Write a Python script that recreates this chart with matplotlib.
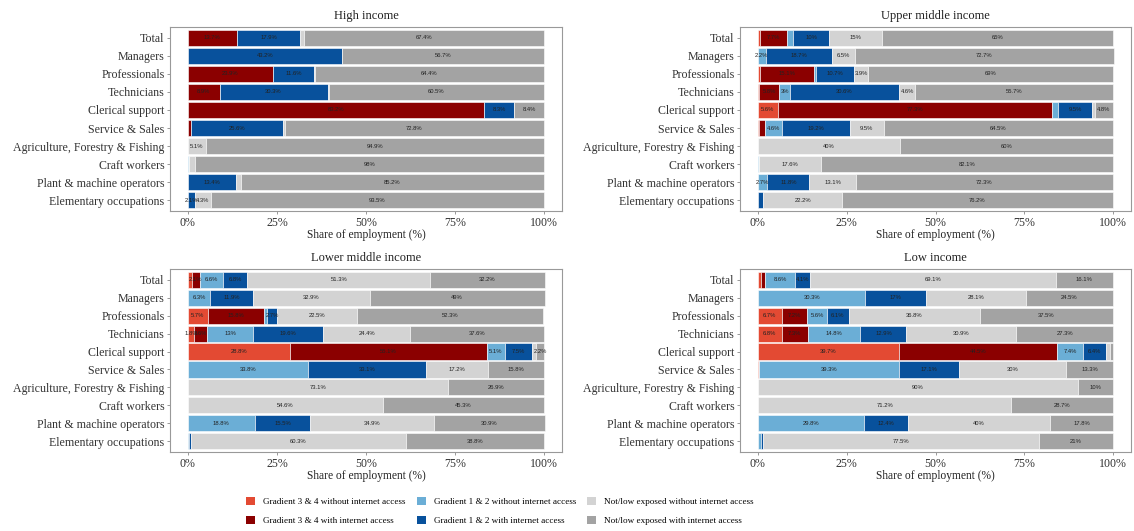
import matplotlib
matplotlib.use("Agg")
import matplotlib.pyplot as plt
from matplotlib.patches import Patch
import numpy as np

plt.rcParams["font.family"] = ["Liberation Serif", "DejaVu Serif"]

occupations = [
    "Total", "Managers", "Professionals", "Technicians", "Clerical support",
    "Service & Sales", "Agriculture, Forestry & Fishing", "Craft workers",
    "Plant & machine operators", "Elementary occupations",
]

series_names = [
    "Gradient 3 & 4 without internet access",
    "Gradient 3 & 4 with internet access",
    "Gradient 1 & 2 without internet access",
    "Gradient 1 & 2 with internet access",
    "Not/low exposed without internet access",
    "Not/low exposed with internet access",
]
series_colors = ["#E34A33", "#8B0000", "#6BAED6", "#08519C", "#D3D3D3", "#A3A3A3"]

# High income
high_g34_no = [0, 0, 0, 0, 0, 0, 0, 0, 0, 0]
high_g34_in = [13.7, 0, 23.9, 8.9, 83.2, 1.0, 0, 0, 0, 0]
high_g12_no = [0, 0, 0, 0, 0, 0, 0, 0.2, 0, 0]
high_g12_in = [17.9, 43.2, 11.6, 30.3, 8.3, 25.6, 0, 0, 13.4, 2.1]
high_nl_no = [1.0, 0.1, 0.1, 0.3, 0.1, 0.6, 5.1, 1.7, 1.4, 4.3]
high_nl_in = [67.4, 56.7, 64.4, 60.5, 8.4, 72.8, 94.9, 98, 85.2, 93.5]

# Upper middle income
umid_g34_no = [0.6, 0, 0.7, 0.3, 5.6, 0.4, 0, 0, 0, 0]
umid_g34_in = [7.7, 0, 15.1, 5.8, 77.3, 1.7, 0, 0, 0, 0]
umid_g12_no = [1.7, 2.2, 0.6, 3.0, 1.6, 4.6, 0, 0.3, 2.7, 0]
umid_g12_in = [10, 18.7, 10.7, 30.6, 9.5, 19.2, 0, 0, 11.8, 1.5]
umid_nl_no = [15, 6.5, 3.9, 4.6, 1.0, 9.5, 40, 17.6, 13.1, 22.2]
umid_nl_in = [65, 72.7, 69, 55.7, 4.8, 64.5, 60, 82.1, 72.3, 76.2]

# Lower middle income
lmid_g34_no = [1.2, 0, 5.7, 1.8, 28.8, 0, 0, 0, 0, 0]
lmid_g34_in = [2.1, 0, 15.8, 3.6, 55.1, 0, 0, 0, 0, 0]
lmid_g12_no = [6.6, 6.3, 0.8, 13, 5.1, 33.8, 0, 0.1, 18.8, 0.3]
lmid_g12_in = [6.8, 11.9, 2.7, 19.6, 7.5, 33.1, 0, 0, 15.5, 0.6]
lmid_nl_no = [51.3, 32.9, 22.5, 24.4, 1.3, 17.2, 73.1, 54.6, 34.9, 60.3]
lmid_nl_in = [32.2, 49, 52.3, 37.6, 2.2, 15.8, 26.9, 45.3, 30.9, 38.8]

# Low income
low_g34_no = [1.0, 0, 6.7, 6.8, 39.7, 0.3, 0, 0, 0, 0]
low_g34_in = [1.0, 0, 7.2, 7.3, 44.5, 0, 0, 0, 0, 0]
low_g12_no = [8.6, 30.3, 5.6, 14.8, 7.4, 39.3, 0, 0.1, 29.8, 1.0]
low_g12_in = [4.1, 17, 6.1, 12.9, 6.4, 17.1, 0, 0, 12.4, 0.5]
low_nl_no = [69.1, 28.1, 36.8, 30.9, 1.2, 30, 90, 71.2, 40, 77.5]
low_nl_in = [16.1, 24.5, 37.5, 27.3, 0.8, 13.3, 10, 28.7, 17.8, 21]

panels = [
    ("High income", [high_g34_no, high_g34_in, high_g12_no, high_g12_in, high_nl_no, high_nl_in]),
    ("Upper middle income", [umid_g34_no, umid_g34_in, umid_g12_no, umid_g12_in, umid_nl_no, umid_nl_in]),
    ("Lower middle income", [lmid_g34_no, lmid_g34_in, lmid_g12_no, lmid_g12_in, lmid_nl_no, lmid_nl_in]),
    ("Low income", [low_g34_no, low_g34_in, low_g12_no, low_g12_in, low_nl_no, low_nl_in]),
]

W, H = 1134, 531
fig = plt.figure(figsize=(W / 100, H / 100), dpi=100)


def rect(left, right, top, bottom):
    return [left / W, 1 - bottom / H, (right - left) / W, (bottom - top) / H]


boxes = [
    rect(170, 562, 27, 211),
    rect(740, 1131, 27, 211),
    rect(170, 562, 269, 452),
    rect(740, 1131, 269, 452),
]

ypos = np.arange(len(occupations))[::-1]

for (title, series), box in zip(panels, boxes):
    ax = fig.add_axes(box)
    left = np.zeros(len(occupations))
    for vals, color in zip(series, series_colors):
        vals = np.asarray(vals, dtype=float)
        ax.barh(ypos, vals, left=left, height=0.9, color=color,
                edgecolor="white", linewidth=0.4)
        for y, l, v in zip(ypos, left, vals):
            if v >= 1.8:
                ax.text(l + v / 2, y, f"{v:g}%", ha="center", va="center",
                        fontsize=4.2, family="Liberation Sans", color="#222222")
        left += vals
    ax.set_xlim(-5, 105)
    ax.set_ylim(-0.6, len(occupations) - 0.4)
    ax.set_yticks(ypos)
    ax.set_yticklabels(occupations, fontsize=8.6, color="#333333")
    ax.set_xticks([0, 25, 50, 75, 100])
    ax.set_xticklabels(["0%", "25%", "50%", "75%", "100%"], fontsize=8.6, color="#333333")
    ax.tick_params(length=2.5, width=0.6, color="#888888", pad=1.5)
    ax.set_xlabel("Share of employment (%)", fontsize=8.3, color="#222222", labelpad=0)
    ax.set_title(title, fontsize=9, color="#222222", pad=6)
    for s in ax.spines.values():
        s.set_color("#999999")
        s.set_linewidth(0.8)

handles = [Patch(facecolor=c, edgecolor="none", label=n)
           for n, c in zip(series_names, series_colors)]
fig.legend(handles=handles, ncol=3, loc="center", bbox_to_anchor=(500 / W, 1 - 511 / H),
           frameon=False, fontsize=6.6, handlelength=1.0, handleheight=1.0,
           columnspacing=1.2, handletextpad=0.85, labelspacing=1.0)

fig.savefig("out.png", dpi=100)
